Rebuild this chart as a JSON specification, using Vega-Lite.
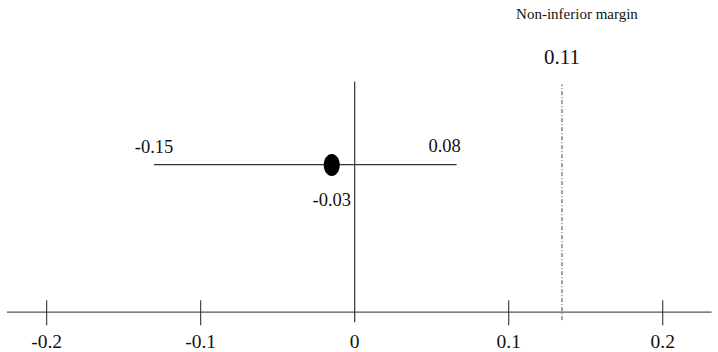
{
  "$schema": "https://vega.github.io/schema/vega-lite/v6.json",
  "width": 718,
  "height": 352,
  "autosize": {"type": "fit", "contains": "padding"},
  "padding": 0,
  "background": "white",
  "config": {"view": {"stroke": null}, "text": {"font": "Liberation Serif", "color": "#111", "baseline": "alphabetic", "align": "center"}},
  "datasets": {
    "ticks": [{"v": -0.2, "label": "-0.2"}, {"v": -0.1, "label": "-0.1"}, {"v": 0, "label": "0"}, {"v": 0.1, "label": "0.1"}, {"v": 0.2, "label": "0.2"}],
    "ci": [{"lower": -0.1303, "upper": 0.0662, "point": -0.0149, "lowerLabel": "-0.15", "upperLabel": "0.08", "pointLabel": "-0.03"}],
    "margin": [{"m": 0.1346, "label": "0.11", "title": "Non-inferior margin"}]
  },
  "layer": [
    {
      "data": {"values": [{"start": -0.2258, "end": 0.2317}]},
      "mark": {"type": "rule", "color": "#555", "strokeWidth": 1.3},
      "encoding": {
        "x": {"field": "start", "type": "quantitative", "scale": {"domain": [-0.2303, 0.2359], "nice": false, "zero": false}, "axis": null},
        "x2": {"field": "end"},
        "y": {"datum": 0, "type": "quantitative", "scale": {"domain": [-38, 314], "nice": false, "zero": false}, "axis": null}
      }
    },
    {
      "data": {"name": "ticks"},
      "transform": [{"filter": "datum.v != 0"}],
      "mark": {"type": "rule", "color": "#333", "strokeWidth": 1.1},
      "encoding": {
        "x": {"field": "v", "type": "quantitative"},
        "y": {"datum": -13, "type": "quantitative"},
        "y2": {"datum": 12}
      }
    },
    {
      "data": {"name": "ticks"},
      "transform": [{"filter": "datum.v == 0"}],
      "mark": {"type": "rule", "color": "#333", "strokeWidth": 1.2},
      "encoding": {
        "x": {"field": "v", "type": "quantitative"},
        "y": {"datum": -10, "type": "quantitative"},
        "y2": {"datum": 232}
      }
    },
    {
      "data": {"name": "ticks"},
      "mark": {"type": "text", "fontSize": 19.5},
      "encoding": {
        "x": {"field": "v", "type": "quantitative"},
        "y": {"datum": -36, "type": "quantitative"},
        "text": {"field": "label"}
      }
    },
    {
      "data": {"name": "ci"},
      "mark": {"type": "rule", "color": "#333", "strokeWidth": 1.2},
      "encoding": {
        "x": {"field": "lower", "type": "quantitative"},
        "x2": {"field": "upper"},
        "y": {"datum": 148.5, "type": "quantitative"}
      }
    },
    {
      "data": {"name": "ci"},
      "mark": {"type": "point", "shape": "M0,-1A0.73,1,0,1,1,0,1A0.73,1,0,1,1,0,-1Z", "filled": true, "color": "black", "opacity": 1, "size": 484},
      "encoding": {
        "x": {"field": "point", "type": "quantitative"},
        "y": {"datum": 148, "type": "quantitative"}
      }
    },
    {
      "data": {"name": "ci"},
      "mark": {"type": "text", "fontSize": 18.5},
      "encoding": {
        "x": {"field": "lower", "type": "quantitative"},
        "y": {"datum": 160, "type": "quantitative"},
        "text": {"field": "lowerLabel"}
      }
    },
    {
      "data": {"name": "ci"},
      "mark": {"type": "text", "fontSize": 18.5, "dx": -12},
      "encoding": {
        "x": {"field": "upper", "type": "quantitative"},
        "y": {"datum": 161, "type": "quantitative"},
        "text": {"field": "upperLabel"}
      }
    },
    {
      "data": {"name": "ci"},
      "mark": {"type": "text", "fontSize": 18.5},
      "encoding": {
        "x": {"field": "point", "type": "quantitative"},
        "y": {"datum": 107, "type": "quantitative"},
        "text": {"field": "pointLabel"}
      }
    },
    {
      "data": {"name": "margin"},
      "mark": {"type": "rule", "color": "#444", "strokeWidth": 1, "strokeDash": [4, 2, 1, 2]},
      "encoding": {
        "x": {"field": "m", "type": "quantitative"},
        "y": {"datum": -8, "type": "quantitative"},
        "y2": {"datum": 229}
      }
    },
    {
      "data": {"name": "margin"},
      "mark": {"type": "text", "fontSize": 21},
      "encoding": {
        "x": {"field": "m", "type": "quantitative"},
        "y": {"datum": 250, "type": "quantitative"},
        "text": {"field": "label"}
      }
    },
    {
      "data": {"name": "margin"},
      "mark": {"type": "text", "fontSize": 15, "dx": 15},
      "encoding": {
        "x": {"field": "m", "type": "quantitative"},
        "y": {"datum": 295, "type": "quantitative"},
        "text": {"field": "title"}
      }
    }
  ]
}
